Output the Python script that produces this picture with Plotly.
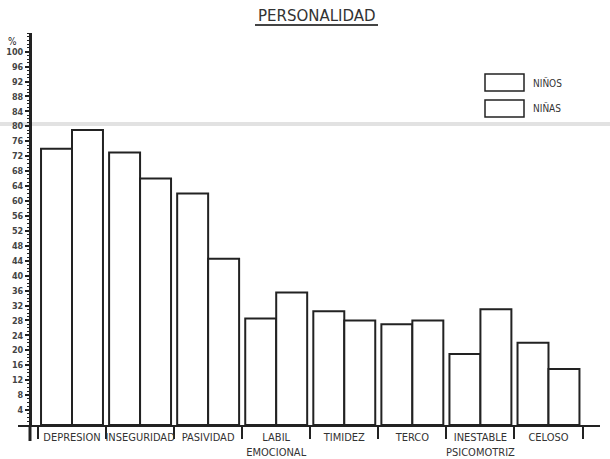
import numpy as np
import plotly.graph_objects as go

# Personality traits (percentage of children), boys vs girls
categorias = ["DEPRESION", "INSEGURIDAD", "PASIVIDAD", "LABIL<br>EMOCIONAL",
              "TIMIDEZ", "TERCO", "INESTABLE<br>PSICOMOTRIZ", "CELOSO"]
ninos = [74, 73, 62, 28.5, 30.5, 27, 19, 22]
ninas = [79, 66, 44.5, 35.5, 28, 28, 31, 15]
y_ticks = list(range(4, 101, 4))

pos = np.arange(len(categorias))
ink = "#222222"
font_fam = "DejaVu Sans Condensed, DejaVu Sans, sans-serif"

bar_style = dict(marker=dict(color="white", line=dict(color=ink, width=2)),
                 showlegend=False)

fig = go.Figure()
fig.add_trace(go.Bar(x=pos, y=ninos, name="NIÑOS", offsetgroup="a", **bar_style))
fig.add_trace(go.Bar(x=pos, y=ninas, name="NIÑAS", offsetgroup="b", **bar_style))

W, H = 610, 459
L, R, T, B = 18, 10, 33, 34
pw, ph = W - L - R, H - T - B


def px(x):
    return (x - L) / pw


def py(y):
    return (H - B - y) / ph


yaxis_pos = px(30)

shapes = [
    # faint horizontal streak across the sheet
    dict(type="line", xref="paper", yref="paper", x0=-0.05, x1=1.05,
         y0=py(124), y1=py(124), line=dict(color="#e2e2e2", width=4), layer="below"),
    # y axis carried below the baseline
    dict(type="line", xref="paper", yref="paper", x0=yaxis_pos, x1=yaxis_pos,
         y0=0, y1=py(441), line=dict(color=ink, width=3)),
    # title underline
    dict(type="line", xref="paper", yref="paper", x0=px(255), x1=px(378),
         y0=py(25), y1=py(25), line=dict(color="#444", width=2)),
    # legend boxes
    dict(type="rect", xref="paper", yref="paper", x0=px(485), x1=px(524),
         y0=py(91), y1=py(74), line=dict(color=ink, width=1.5), fillcolor="white"),
    dict(type="rect", xref="paper", yref="paper", x0=px(485), x1=px(524),
         y0=py(117), y1=py(100), line=dict(color=ink, width=1.5), fillcolor="white"),
]


def label(text, x, y, size, xanchor="center", family=font_fam, color="#333"):
    return dict(text=text, xref="paper", yref="paper", x=px(x), y=py(y),
                xanchor=xanchor, yanchor="middle", showarrow=False,
                font=dict(family=family, size=size, color=color))


annotations = [
    label("PERSONALIDAD", 317, 16, 15, family="DejaVu Sans, sans-serif"),
    label("%", 12, 41, 10, color=ink),
    label("NIÑOS", 531, 83, 10, xanchor="left"),
    label("NIÑAS", 531, 108, 10, xanchor="left"),
]

fig.update_layout(
    width=W, height=H,
    margin=dict(l=L, r=R, t=T, b=B),
    paper_bgcolor="white", plot_bgcolor="white",
    barmode="group", bargap=0.09, bargroupgap=0,
    shapes=shapes, annotations=annotations,
    xaxis=dict(
        range=[(L - 72) / 68.07, (W - R - 72) / 68.07],
        tickmode="array", tickvals=pos, ticktext=categorias,
        ticks="", showgrid=False, zeroline=False, automargin=False,
        showline=True, linecolor=ink, linewidth=2,
        tickfont=dict(family=font_fam, size=11, color="#333"),
        ticklabelstandoff=1,
        minor=dict(tickmode="array", tickvals=list(pos - 0.5) + [pos[-1] + 0.5],
                   ticks="outside", ticklen=12, tickwidth=1.5, tickcolor=ink,
                   showgrid=False),
    ),
    yaxis=dict(
        range=[0, 105], anchor="free", position=yaxis_pos, automargin=False,
        tickmode="array", tickvals=y_ticks, ticktext=[str(v) for v in y_ticks],
        ticks="outside", ticklen=4, tickwidth=1.5, tickcolor=ink,
        showgrid=False, zeroline=False,
        showline=True, linecolor=ink, linewidth=3,
        tickfont=dict(family=font_fam, size=9, color="#444", weight="bold"),
        minor=dict(dtick=1, tick0=0, ticks="outside", ticklen=2,
                   tickwidth=1, tickcolor=ink, showgrid=False),
    ),
)

fig.write_html("out.html")
